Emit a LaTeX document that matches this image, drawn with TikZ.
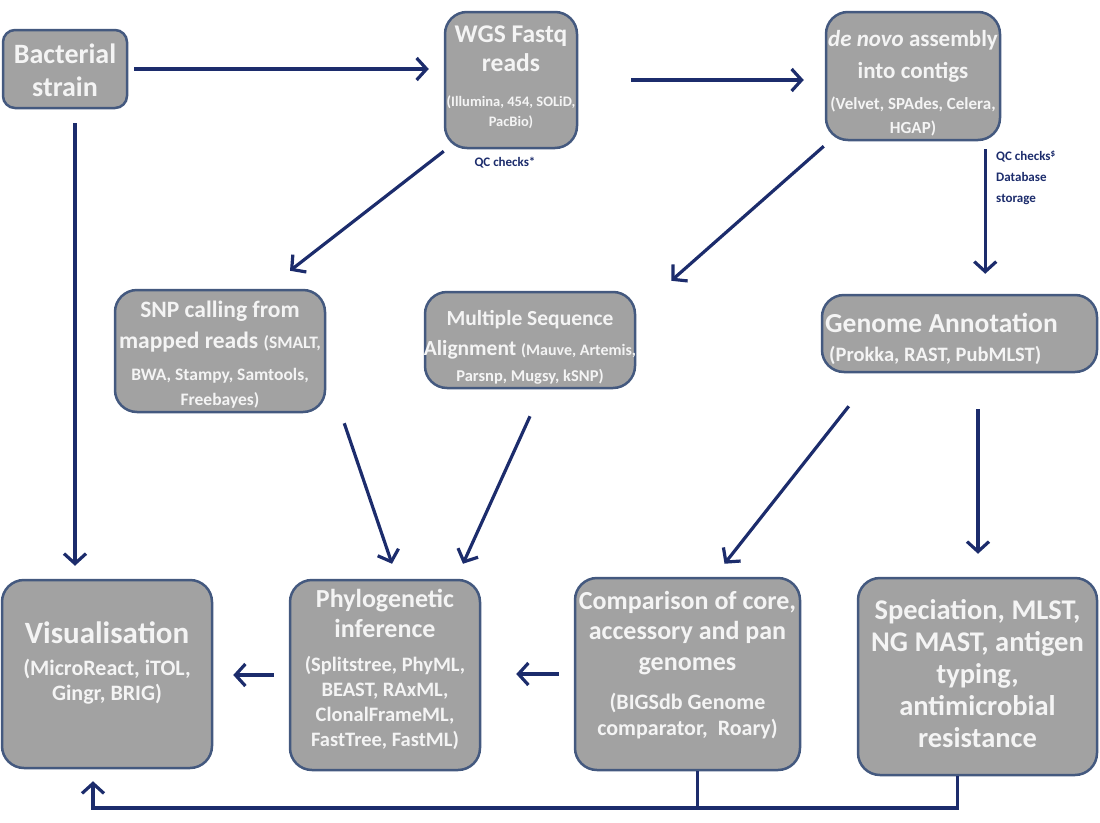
\documentclass[tikz,border=0pt]{standalone}
\usepackage{fontspec}
\setmainfont{Carlito}
\usetikzlibrary{arrows.meta,calc}
\definecolor{navy}{HTML}{1C2C6C}
\definecolor{boxfill}{HTML}{A2A2A2}
\definecolor{boxline}{HTML}{44597F}
\definecolor{txtwhite}{HTML}{F4F4F4}
\newcommand{\fs}[2]{\fontsize{#1}{#2}\selectfont}
\tikzset{
  box/.style={draw=boxline, line width=2.5pt, fill=boxfill, rounded corners=22pt, inner sep=0pt},
  txt/.style={text=txtwhite, align=center, inner sep=0pt, anchor=north},
  arr/.style={draw=navy, line width=3.2pt, -{Straight Barb[length=10pt,width=22pt,line width=3.2pt]}},
  ln/.style={draw=navy, line width=3.2pt},
  lbl/.style={text=navy, font=\bfseries\fs{13}{21}, inner sep=0pt}
}
\begin{document}
\begin{tikzpicture}[x=1pt,y=-1pt]
\useasboundingbox (0,0) rectangle (1100,822);
% boxes
\node[box, rounded corners=12pt, minimum width=124pt, minimum height=78pt] (bact) at (65,69) {};
\node[box, minimum width=132pt, minimum height=136pt] (wgs) at (511,80) {};
\node[box, minimum width=174pt, minimum height=128pt] (denovo) at (913,76) {};
\node[box, minimum width=210pt, minimum height=122pt] (snp) at (220,351) {};
\node[box, minimum width=210pt, minimum height=96pt] (msa) at (530,340) {};
\node[box, minimum width=275pt, minimum height=77pt] (ga) at (959.5,333.5) {};
\node[box, minimum width=210pt, minimum height=188pt] (vis) at (107,674) {};
\node[box, minimum width=190pt, minimum height=190pt] (phylo) at (385,675) {};
\node[box, minimum width=225pt, minimum height=192pt] (comp) at (687.5,674) {};
\node[box, minimum width=239pt, minimum height=197pt] (spec) at (977.5,676.5) {};
% box texts
\node[txt, font=\bfseries\fs{28}{33}] (bact-t) at (bact.center |- 0,44) {Bacterial\\strain};
\node[txt, font=\bfseries\fs{25.5}{29}] (wgs-t) at (wgs.center |- 0,26)
  {WGS Fastq\\reads\\[6pt]\fs{14.5}{18}(Illumina, 454, SOLiD,\\[-9pt]\fs{14.5}{18}PacBio)};
\node[txt, font=\bfseries\fs{23}{31}] (denovo-t) at (denovo.center |- 0,30)
  {\textit{de novo} assembly\\[1pt]into contigs\\[0pt]\fs{17}{20}(Velvet, SPAdes, Celera,\\[-7pt]\fs{17}{20}HGAP)};
\node[txt, font=\bfseries\fs{23.5}{31}] (snp-t) at (snp.center |- 0,301)
  {SNP calling from\\mapped reads {\fs{17.5}{20}(SMALT,}\\[1pt]\fs{17.5}{20}BWA, Stampy, Samtools,\\[-6pt]\fs{17.5}{20}Freebayes)};
\node[txt, font=\bfseries\fs{21.5}{30}] (msa-t) at (msa.center |- 0,310)
  {Multiple Sequence\\Alignment {\fs{16}{20}(Mauve, Artemis,}\\[-4pt]\fs{16.5}{20}Parsnp, Mugsy, kSNP)};
\node[txt, anchor=north west, align=left, font=\bfseries\fs{27.5}{28}] (ga-t) at (825,313)
  {Genome Annotation\\[1pt]\fs{20.5}{22}\hspace*{4pt}(Prokka, RAST, PubMLST)};
\node[txt, font=\bfseries\fs{31}{34}] (vis-t) at (vis.center |- 0,621)
  {Visualisation\\[-2pt]\fs{22}{24}(MicroReact, iTOL,\\[-9pt]\fs{22}{24}Gingr, BRIG)};
\node[txt, font=\bfseries\fs{26}{30}] (phylo-t) at (phylo.center |- 0,589)
  {Phylogenetic\\inference\\[4pt]\fs{20.5}{22}(Splitstree, PhyML,\\[-5pt]\fs{20.5}{22}BEAST, RAxML,\\[-5pt]\fs{20.5}{22}ClonalFrameML,\\[-5pt]\fs{20.5}{22}FastTree, FastML)};
\node[txt, font=\bfseries\fs{26}{30}] (comp-t) at (comp.center |- 0,591)
  {Comparison of core,\\accessory and pan\\[1pt]genomes\\[9pt]\fs{22}{24}(BIGSdb Genome\\[-4pt]\fs{22}{24}comparator,\ \ Roary)};
\node[txt, font=\bfseries\fs{28.5}{32}] (spec-t) at (spec.center |- 0,599)
  {Speciation, MLST,\\NG MAST, antigen\\typing,\\antimicrobial\\resistance};
% labels
\node[lbl] (qc1) at (505,163) {QC checks*};
\node[lbl, align=left, anchor=north west] (qc2) at (996,150) {QC checks\textsuperscript{\$}\\Database\\storage};
% connectors
\draw[arr, shorten <=6pt, shorten >=15pt] (bact.east) -- (bact.east -| wgs.west);
\draw[arr, shorten <=53pt, shorten >=21pt] (wgs.east) -- (wgs.east -| denovo.west);
\coordinate (dq) at ($(denovo.south east)+(-16,0)$);
\draw[arr, shorten <=8pt, shorten >=20pt] (dq) -- (dq |- ga.north);
\draw[arr] ($(wgs.south west)+(0,2)$) -- ($(snp.north)+(70,-18)$);
\draw[arr] ($(denovo.south west)+(-1,5)$) -- ($(msa.north east)+(35,-10)$);
\draw[arr] ($(snp.south east)+(18,10)$) -- ($(phylo.north)+(7,-15)$);
\draw[arr] ($(msa.south)+(0,27)$) -- ($(phylo.north)+(78,-15)$);
\draw[arr] ($(ga.south west)+(28,33)$) -- ($(comp.north)+(37,-13)$);
\coordinate (gq) at ($(spec.north)+(0.5,0)$);
\draw[arr, shorten <=36pt, shorten >=23pt] (gq |- ga.south) -- (gq);
\coordinate (bq) at ($(bact.south)+(10,0)$);
\draw[arr, shorten <=14pt, shorten >=13pt] (bq) -- (bq |- vis.north);
\draw[arr, shorten <=15pt, shorten >=20pt] (phylo.west) -- (phylo.west -| vis.east);
\draw[arr, shorten <=15pt, shorten >=35pt] (comp.west) -- (comp.west -| phylo.east);
% feedback loop
\coordinate (base) at (0,808);
\coordinate (sp) at ($(spec.south)+(-20,0)$);
\coordinate (cp) at ($(comp.south)+(10,0)$);
\coordinate (vb) at ($(vis.south)+(-14,0)$);
\draw[arr, shorten >=12pt] (sp) -- (sp |- base) -| (vb);
\draw[ln] (cp) -- (cp |- base);
\end{tikzpicture}
\end{document}
